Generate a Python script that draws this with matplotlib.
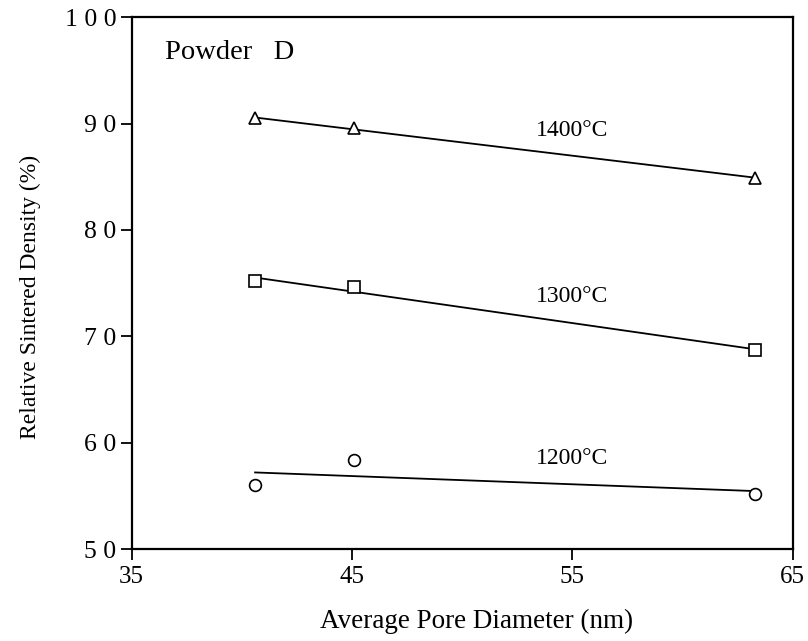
import numpy as np
import matplotlib
matplotlib.use("Agg")
import matplotlib.pyplot as plt

plt.rcParams['font.family'] = ['Liberation Serif', 'DejaVu Serif']

# Average pore diameter (nm) of the compacts
pore_diameter = [40.6, 45.1, 63.3]

# Relative sintered density (%) at each sintering temperature
density_1200 = [56.0, 58.35, 55.15]
density_1300 = [75.2, 74.6, 68.7]
density_1400 = [90.5, 89.55, 84.9]

series = [
    ('1200°C', density_1200, 'o'),
    ('1300°C', density_1300, 's'),
    ('1400°C', density_1400, '^'),
]
label_pos = {'1200°C': (55.0, 58.55), '1300°C': (55.0, 73.7), '1400°C': (55.0, 89.4)}

y_ticks = [50, 60, 70, 80, 90, 100]
y_tick_labels = ['5 0', '6 0', '7 0', '8 0', '9 0', '1 0 0']
x_ticks = [35, 45, 55, 65]

fig = plt.figure(figsize=(8.08, 6.41), dpi=100)
ax = fig.add_axes([0.163, 0.1435, 0.818, 0.8295])

x = np.array(pore_diameter)
for name, dens, mk in series:
    y = np.array(dens)
    # least-squares trend line across the measured range
    k, b = np.polyfit(x, y, 1)
    ax.plot([x.min(), x.max()], [k * x.min() + b, k * x.max() + b],
            color='black', lw=1.3)
    ax.plot(x, y, linestyle='none', marker=mk, ms=9 if mk == '^' else 8.5,
            mfc='white', mec='black', mew=1.2)
    ax.text(*label_pos[name], name, fontsize=17, ha='center', va='center')

ax.text(36.5, 96.7, 'Powder   D', fontsize=20.5, ha='left', va='center')

ax.set_xlim(35, 65)
ax.set_ylim(50, 100)
ax.set_xticks(x_ticks)
ax.set_xticklabels([str(t) for t in x_ticks])
ax.set_yticks(y_ticks)
ax.set_yticklabels(y_tick_labels)
ax.tick_params(direction='out', length=8, width=1.3, labelsize=18.5, pad=3)
ax.tick_params(axis='x', labelsize=18, pad=4)
for sp in ax.spines.values():
    sp.set_linewidth(1.6)

ax.set_xlabel('Average Pore Diameter (nm)', fontsize=19.5)
ax.xaxis.label.set_va('center')
ax.xaxis.set_label_coords(0.522, -0.137)
ax.set_ylabel('Relative Sintered Density (%)', fontsize=17)
ax.yaxis.label.set_va('center')
ax.yaxis.set_label_coords(-0.154, 0.474)

fig.savefig('out.png', dpi=100, facecolor='white')
